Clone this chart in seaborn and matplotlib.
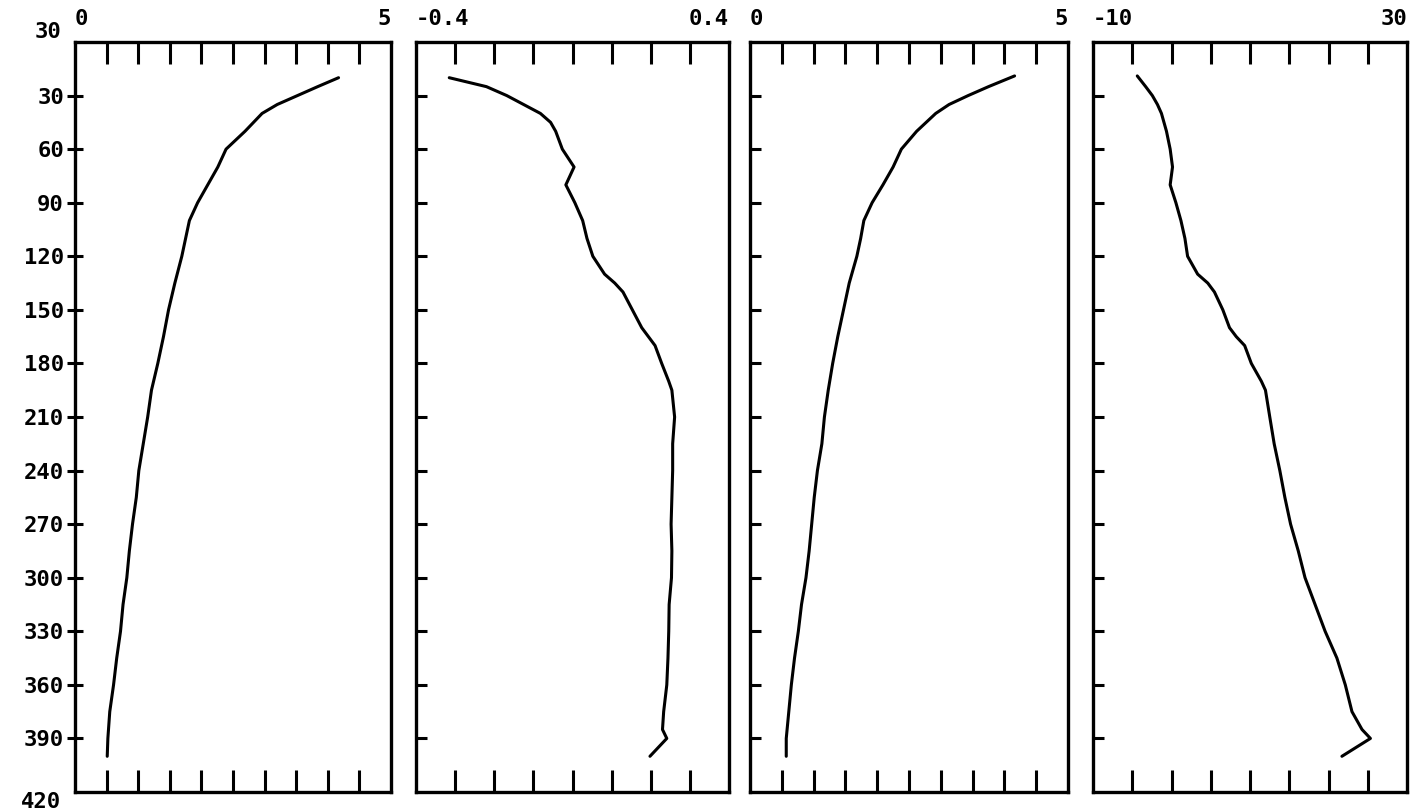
import matplotlib
matplotlib.use("Agg")
import matplotlib.pyplot as plt
import seaborn as sns
import numpy as np

sns.set_theme(style="white")
plt.rcParams['font.family'] = ['DejaVu Sans Mono', 'DejaVu Sans']
plt.rcParams['font.weight'] = 'bold'

# ---------------- data ----------------
depth_a = [20, 25, 30, 35, 40, 50, 60, 70, 80, 90, 100, 110, 120, 135, 150, 165,
           180, 195, 210, 225, 240, 255, 270, 285, 300, 315, 330, 345, 360, 375, 390, 400]
series1 = [4.17, 3.84, 3.52, 3.20, 2.96, 2.69, 2.39, 2.26, 2.10, 1.94, 1.81, 1.75, 1.69, 1.58,
           1.48, 1.40, 1.31, 1.21, 1.15, 1.08, 1.01, 0.97, 0.91, 0.86, 0.82, 0.76, 0.72, 0.66,
           0.61, 0.55, 0.52, 0.51]

depth_b = [20, 25, 30, 35, 40, 45, 50, 60, 70, 80, 90, 100, 110, 120, 130, 135, 140, 150,
           160, 170, 180, 190, 195, 210, 225, 240, 255, 270, 285, 300, 315, 330, 345, 360,
           375, 385, 390, 400]
series2 = [-0.315, -0.22, -0.168, -0.125, -0.082, -0.056, -0.043, -0.026, 0.004, -0.017,
           0.006, 0.026, 0.037, 0.052, 0.082, 0.108, 0.129, 0.153, 0.177, 0.211, 0.228,
           0.246, 0.254, 0.261, 0.256, 0.256, 0.254, 0.252, 0.254, 0.253, 0.247, 0.246,
           0.244, 0.241, 0.233, 0.230, 0.241, 0.198]

depth_c = [19, 25, 30, 35, 40, 50, 60, 70, 80, 90, 100, 110, 120, 135, 150, 165,
           180, 195, 210, 225, 240, 255, 270, 285, 300, 315, 330, 345, 360, 375, 390, 400]
series3 = [4.16, 3.75, 3.43, 3.13, 2.92, 2.62, 2.38, 2.25, 2.09, 1.92, 1.79, 1.74, 1.68, 1.56,
           1.47, 1.38, 1.30, 1.23, 1.17, 1.13, 1.06, 1.01, 0.97, 0.93, 0.88, 0.81, 0.76, 0.70,
           0.65, 0.61, 0.57, 0.57]

depth_d = [19, 25, 30, 35, 40, 50, 60, 70, 80, 90, 100, 110, 120, 130, 135, 140, 150, 160,
           165, 170, 180, 190, 195, 210, 225, 240, 255, 270, 285, 300, 315, 330, 345, 360,
           375, 385, 390, 400]
series4 = [-4.36, -3.29, -2.44, -1.79, -1.28, -0.64, -0.17, 0.13, -0.17, 0.56, 1.20, 1.71,
           2.05, 3.33, 4.62, 5.47, 6.54, 7.39, 8.25, 9.32, 10.17, 11.45, 11.97, 12.52, 13.08,
           13.80, 14.44, 15.17, 16.15, 17.01, 18.29, 19.57, 21.07, 22.14, 22.99, 24.27,
           25.34, 21.71]

x_limits = [(0, 5), (-0.4, 0.4), (0, 5), (-10, 30)]
x_end_labels = [["0", "5"], ["-0.4", "0.4"], ["0", "5"], ["-10", "30"]]
x_divisions = [10, 8, 10, 8]

y_ticks = [30, 60, 90, 120, 150, 180, 210, 240, 270, 300, 330, 360, 390]
y_tick_labels = ["30", "60", "90", "120", "150", "180", "210", "240", "270",
                 "300", "330", "360", "390"]
y_end_ticks = [0, 420]
y_end_labels = ["30", "420"]

# ---------------- figure ----------------
fig = plt.figure(figsize=(14.12, 8.11), dpi=100)
fig.patch.set_facecolor("white")

W, H = 1412, 811
boxes_px = [(75, 391), (416, 729), (750, 1068), (1093, 1407)]
top_px, bot_px = 42, 792

data = [(depth_a, series1), (depth_b, series2), (depth_c, series3), (depth_d, series4)]
FS = 16

for i, ((x0, x1), (dep, val)) in enumerate(zip(boxes_px, data)):
    ax = fig.add_axes([x0 / W, (H - bot_px) / H, (x1 - x0) / W, (bot_px - top_px) / H])
    ax.set_facecolor("white")
    sns.lineplot(x=val, y=dep, sort=False, estimator=None, color="black",
                 linewidth=2.2, ax=ax)
    lo, hi = x_limits[i]
    ax.set_xlim(lo, hi)
    ax.set_ylim(420, 0)
    ax.set_xlabel("")
    ax.set_ylabel("")
    for s in ax.spines.values():
        s.set_visible(True)
        s.set_color("black")
        s.set_linewidth(2.4)

    # x ticks: inner ticks on top and bottom, end labels on top
    inner = np.linspace(lo, hi, x_divisions[i] + 1)[1:-1]
    ax.set_xticks(inner)
    ax.tick_params(axis="x", which="major", direction="in", length=16, width=2.2,
                   color="black", top=True, bottom=True, labeltop=False, labelbottom=False)
    ax.set_xticks([lo, hi], labels=x_end_labels[i], minor=True)
    ax.tick_params(axis="x", which="minor", length=0, top=True, bottom=False,
                   labeltop=True, labelbottom=False, pad=9, labelsize=FS,
                   labelcolor="black")
    mt = ax.xaxis.get_minor_ticks()
    mt[0].label2.set_horizontalalignment("left")
    mt[1].label2.set_horizontalalignment("right")
    for t in mt:
        t.label2.set_fontweight("bold")

    # y ticks
    if i == 0:
        ax.set_yticks(y_ticks, labels=y_tick_labels)
        ax.tick_params(axis="y", which="major", direction="inout", length=12, width=2.2,
                       color="black", left=True, right=False, labelleft=True,
                       labelsize=FS, labelcolor="black", pad=2)
        ax.set_yticks(y_end_ticks, labels=y_end_labels, minor=True)
        ax.tick_params(axis="y", which="minor", length=0, left=True, right=False,
                       labelleft=True, labelsize=FS, labelcolor="black", pad=10)
        ymt = ax.yaxis.get_minor_ticks()
        ymt[0].label1.set_verticalalignment("bottom")
        ymt[1].label1.set_verticalalignment("top")
        for t in ax.yaxis.get_major_ticks() + ymt:
            t.label1.set_fontweight("bold")
    else:
        ax.set_yticks(y_ticks)
        ax.tick_params(axis="y", which="major", direction="in", length=8, width=2.2,
                       color="black", left=True, right=False, labelleft=False)

fig.savefig("out.png", dpi=100, facecolor="white")
